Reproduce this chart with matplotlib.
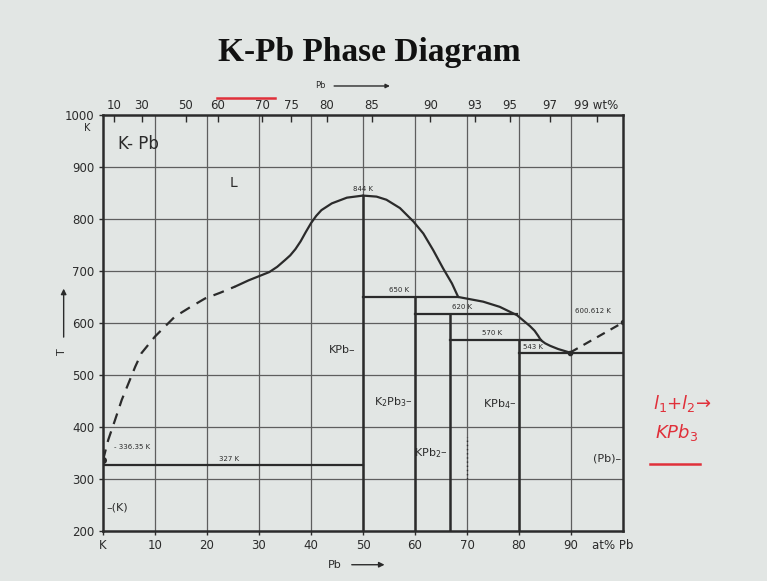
import matplotlib
matplotlib.use("Agg")
import matplotlib.pyplot as plt
import numpy as np

# ---------------- data ----------------
# liquidus, K side (dashed part)
liq_k_dash_x = [0, 1.0, 2.3, 3.6, 4.9, 6.2, 7.4, 8.7, 10.0, 11.9, 13.8, 16.7, 19.6, 22.5, 25.4]
liq_k_dash_T = [336, 375, 413, 452, 484, 516, 542, 558, 574, 593, 612, 630, 647, 658, 670]
# liquidus, rising to KPb maximum (solid)
liq_k_solid_x = [25.4, 28.0, 30.0, 32.0, 33.5, 35.0, 36.0, 37.0, 38.0, 39.0, 40.0, 41.0,
                 42.0, 44.0, 46.9, 50.0]
liq_k_solid_T = [670, 682, 690, 698, 708, 721, 730, 742, 757, 775, 792, 806,
                 817, 830, 841, 845]
# liquidus, falling from KPb maximum to the eutectic near Pb
liq_pb_x = [50.0, 52.6, 54.5, 57.1, 59.7, 61.6, 63.5, 65.4, 67.1, 68.3,
            73.1, 76.3, 79.6, 82.1, 83.0, 83.7, 84.2, 85.0, 86.0, 87.5, 89.8]
liq_pb_T = [845, 843, 837, 821, 795, 772, 740, 705, 676, 650,
            641, 631, 615, 594, 585, 575, 567, 561, 556, 550, 543]
# liquidus, Pb side (dashed)
liq_pb_dash_x = [89.8, 100]
liq_pb_dash_T = [543, 601]

# invariant lines: (x_start, x_end, T)
inv_x0 = [0, 50, 60, 66.7, 80]
inv_x1 = [50, 68.3, 79.6, 84.2, 100]
inv_T = [327, 650, 618, 567, 543]
inv_lbl = ["327 K", "650 K", "620 K", "570 K", "543 K"]
inv_lbl_x = [24.2, 57.0, 69.0, 74.8, 82.7]
inv_lbl_T = [333, 657, 624, 574, 548]

# compounds: composition, top temperature
comp_x = [50, 60, 66.7, 80]
comp_T = [845, 650, 618, 567]

# axis ticks
bottom_ticks = [0, 10, 20, 30, 40, 50, 60, 70, 80, 90]
bottom_labels = ["K", "10", "20", "30", "40", "50", "60", "70", "80", "90"]
y_ticks = [200, 300, 400, 500, 600, 700, 800, 900, 1000]
top_wt = [10, 30, 50, 60, 70, 75, 80, 85, 90, 93, 95, 97, 99]
top_labels = ["10", "30", "50", "60", "70", "75", "80", "85", "90", "93", "95", "97", "99 wt%"]

M_K, M_PB = 39.098, 207.2


def wt2at(w):
    w = np.clip(np.asarray(w, dtype=float), 1e-9, 100 - 1e-9)
    a = w / M_PB
    b = (100 - w) / M_K
    return 100 * a / (a + b)


def at2wt(x):
    x = np.clip(np.asarray(x, dtype=float), 1e-9, 100 - 1e-9)
    a = x * M_PB
    b = (100 - x) * M_K
    return 100 * a / (a + b)


# ---------------- figure ----------------
BG = "#e2e6e4"
INK = "#2b2b2b"
GRID = "#5e5e5e"
NARROW = ["DejaVu Sans"]

fig = plt.figure(figsize=(7.67, 5.81), dpi=100, facecolor=BG)
ax = fig.add_axes([0.1343, 0.0861, 0.678, 0.716], facecolor=BG)
ax.set_xlim(0, 100)
ax.set_ylim(200, 1000)

# grid
for t in y_ticks[1:-1]:
    ax.axhline(t, color=GRID, lw=0.9, zorder=1)
for t in bottom_ticks[1:]:
    ax.axvline(t, color=GRID, lw=0.9, zorder=1)

# liquidus
kw = dict(color=INK, lw=1.6, zorder=3, solid_joinstyle="round", solid_capstyle="round")
ax.plot(liq_k_dash_x, liq_k_dash_T, ls=(0, (5, 3.5)), **kw)
ax.plot(liq_k_solid_x, liq_k_solid_T, **kw)
ax.plot(liq_pb_x, liq_pb_T, **kw)
ax.plot(liq_pb_dash_x, liq_pb_dash_T, ls=(0, (4, 3)), **kw)
ax.plot([liq_pb_dash_x[0]], [liq_pb_dash_T[0]], "o", color=INK, ms=3, zorder=4)
ax.plot([liq_pb_dash_x[-1]], [liq_pb_dash_T[-1]], "o", color=INK, ms=3, zorder=4)
ax.plot([liq_k_dash_x[0]], [liq_k_dash_T[0]], "o", color=INK, ms=4, zorder=4)

# invariants
for x0, x1, T in zip(inv_x0, inv_x1, inv_T):
    ax.plot([x0, x1], [T, T], color=INK, lw=1.6, zorder=3)
for x, lbl, T in zip(inv_lbl_x, inv_lbl, inv_lbl_T):
    ax.text(x, T, lbl, fontsize=5, ha="center", va="bottom", color=INK, family=NARROW, zorder=5)

# compound verticals
for x, T in zip(comp_x, comp_T):
    ax.plot([x, x], [200, T], color=INK, lw=1.8, zorder=3)
# dotted segment
ax.plot([70, 70], [300, 380], color=INK, lw=1.0, ls=(0, (1, 2)), zorder=3)

# labels
ax.text(50, 852, "844 K", fontsize=5, ha="center", va="bottom", color=INK, family=NARROW)
ax.text(94.2, 617, "600.612 K", fontsize=5, ha="center", va="bottom", color=INK, family=NARROW)
ax.text(2.2, 355, "- 336.35 K", fontsize=5, ha="left", va="bottom", color=INK, family=NARROW)
ax.text(2.8, 945, "K- Pb", fontsize=12, ha="left", va="center", color=INK, family=NARROW)
ax.text(25, 869, "L", fontsize=10, ha="center", va="center", color=INK, family=NARROW)
ax.text(48.5, 548, "KPb\u2013", fontsize=8, ha="right", va="center", color=INK, family=NARROW)
ax.text(59.5, 447, "K$_2$Pb$_3$\u2013", fontsize=8, ha="right", va="center", color=INK, family=NARROW)
ax.text(66.3, 349, "KPb$_2$\u2013", fontsize=8, ha="right", va="center", color=INK, family=NARROW)
ax.text(79.5, 444, "KPb$_4$\u2013", fontsize=8, ha="right", va="center", color=INK, family=NARROW)
ax.text(99.6, 340, "(Pb)\u2013", fontsize=8, ha="right", va="center", color=INK, family=NARROW)
ax.text(0.6, 246, "\u2013(K)", fontsize=8, ha="left", va="center", color=INK, family=NARROW)

# axes styling
for s in ax.spines.values():
    s.set_linewidth(1.8)
    s.set_color(INK)
ax.set_xticks(bottom_ticks)
ax.set_xticklabels(bottom_labels, family=NARROW, fontsize=8.5, color=INK)
ax.set_yticks(y_ticks)
ax.set_yticklabels([str(t) for t in y_ticks], family=NARROW, fontsize=8.5, color=INK)
ax.tick_params(axis="both", length=3, width=1, color=INK, pad=3)

sec = ax.secondary_xaxis("top", functions=(at2wt, wt2at))
sec.set_xticks(top_wt)
sec.set_xticklabels(top_labels, family=NARROW, fontsize=8.5, color=INK)
sec.tick_params(direction="in", length=5, width=1, color=INK, pad=2)
sec.spines["top"].set_visible(False)

# text around the axes
fig.text(0.799, 0.061, "at% Pb", fontsize=8.5, family=NARROW, color=INK, ha="center", va="center")
fig.text(0.114, 0.780, "K", fontsize=7, family=NARROW, color=INK, ha="center", va="center")
fig.text(0.081, 0.394, "T", fontsize=8, family=NARROW, color=INK, ha="center", va="center", rotation=90)
fig.add_artist(matplotlib.patches.FancyArrowPatch((0.083, 0.415), (0.083, 0.508), transform=fig.transFigure,
                                                  arrowstyle="-|>", mutation_scale=8, color=INK, lw=1))
fig.text(0.437, 0.028, "Pb", fontsize=8, family=NARROW, color=INK, ha="center", va="center")
fig.add_artist(matplotlib.patches.FancyArrowPatch((0.455, 0.028), (0.505, 0.028), transform=fig.transFigure,
                                                  arrowstyle="-|>", mutation_scale=8, color=INK, lw=1))
fig.text(0.418, 0.852, "Pb", fontsize=6, family=NARROW, color=INK, ha="center", va="center")
fig.add_artist(matplotlib.patches.FancyArrowPatch((0.432, 0.852), (0.512, 0.852), transform=fig.transFigure,
                                                  arrowstyle="-|>", mutation_scale=6, color=INK, lw=1))

# title
fig.text(0.481, 0.91, "K-Pb Phase Diagram", fontsize=24, fontweight="bold",
         family=["Liberation Serif", "DejaVu Serif"], color="#111111", ha="center", va="center")

# handwritten annotations (red)
RED = "#e0303a"
fig.add_artist(matplotlib.lines.Line2D([0.283, 0.358], [0.832, 0.832], transform=fig.transFigure,
                                       color=RED, lw=1.8))
fig.text(0.890, 0.305, "l$_1$+l$_2$\u2192", fontsize=13, color=RED, style="italic", ha="center", va="center")
fig.text(0.882, 0.255, "KPb$_3$", fontsize=13, color=RED, style="italic", ha="center", va="center")
fig.add_artist(matplotlib.lines.Line2D([0.848, 0.913], [0.201, 0.201], transform=fig.transFigure,
                                       color=RED, lw=1.8))

fig.savefig("out.png", dpi=100, facecolor=BG)
